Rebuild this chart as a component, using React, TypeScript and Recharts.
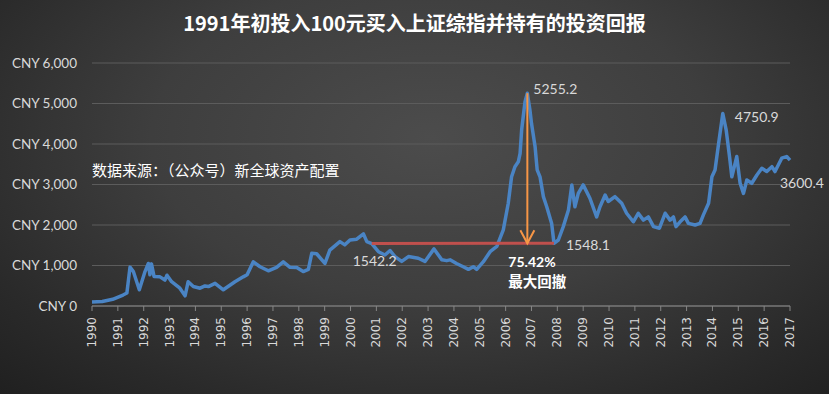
import React from 'react'
import {
  LineChart,
  Line,
  XAxis,
  YAxis,
  CartesianGrid,
  ReferenceLine,
  ReferenceDot,
} from 'recharts'

// decimal year positions of the monthly-ish samples
const dates = [
  1990.0, 1990.4, 1990.8, 1991.2, 1991.35, 1991.47, 1991.6, 1991.83, 1992.05, 1992.18,
  1992.24, 1992.3, 1992.4, 1992.63, 1992.82, 1992.9, 1993.08, 1993.4, 1993.6, 1993.72,
  1993.92, 1994.18, 1994.37, 1994.5, 1994.76, 1995.08, 1995.53, 1995.85, 1996.0, 1996.24,
  1996.5, 1996.82, 1997.14, 1997.4, 1997.66, 1997.92, 1998.17, 1998.37, 1998.5, 1998.69,
  1999.01, 1999.2, 1999.59, 1999.78, 1999.98, 2000.24, 2000.5, 2000.63, 2000.82, 2001.08,
  2001.33, 2001.53, 2001.72, 2001.98, 2002.24, 2002.62, 2002.88, 2003.23, 2003.53, 2003.72,
  2003.85, 2004.1, 2004.36, 2004.56, 2004.75, 2004.88, 2005.14, 2005.4, 2005.66, 2005.91,
  2006.1, 2006.23, 2006.36, 2006.49, 2006.56, 2006.62, 2006.75, 2006.84, 2006.94, 2007.0,
  2007.14, 2007.22, 2007.33, 2007.46, 2007.59, 2007.78, 2007.87, 2008.04, 2008.23, 2008.43,
  2008.56, 2008.68, 2008.81, 2009.0, 2009.26, 2009.52, 2009.65, 2009.85, 2009.97, 2010.23,
  2010.49, 2010.68, 2010.94, 2011.13, 2011.33, 2011.52, 2011.72, 2011.95, 2012.17, 2012.36,
  2012.49, 2012.59, 2012.75, 2012.94, 2013.07, 2013.33, 2013.52, 2013.65, 2013.85, 2013.98,
  2014.1, 2014.24, 2014.4, 2014.53, 2014.66, 2014.75, 2014.94, 2015.07, 2015.2, 2015.33,
  2015.52, 2015.72, 2015.91, 2016.1, 2016.3, 2016.42, 2016.68, 2016.87, 2017.0,
]

const values = [
  100, 110, 165, 270, 320, 960, 850, 400, 850, 1050,
  770, 1040, 730, 720, 640, 760, 600, 440, 250, 600,
  480, 440, 495, 480, 560, 400, 600, 720, 770, 1090,
  970, 870, 955, 1090, 955, 950, 850, 905, 1300, 1290,
  1050, 1380, 1590, 1510, 1630, 1650, 1780, 1590, 1542.2, 1340,
  1260, 1370, 1220, 1100, 1220, 1180, 1100, 1410, 1140, 1120,
  1140, 1050, 970, 905, 970, 905, 1095, 1340, 1470, 1880,
  2530, 3190, 3440, 3560, 3770, 4350, 5045, 5255.2, 4840, 4510,
  3930, 3360, 3190, 2700, 2450, 2040, 1548.1, 1630, 1960, 2370,
  2990, 2450, 2780, 2990, 2660, 2200, 2450, 2740, 2580, 2700,
  2535, 2290, 2080, 2290, 2120, 2200, 1960, 1920, 2290, 2120,
  2200, 1960, 2080, 2200, 2040, 2000, 2040, 2250, 2535, 3190,
  3360, 4020, 4750.9, 4350, 3690, 3190, 3690, 3030, 2780, 3110,
  3030, 3235, 3400, 3320, 3440, 3320, 3650, 3690, 3600.4,
]

const years = [
  1990, 1991, 1992, 1993, 1994, 1995, 1996, 1997, 1998, 1999, 2000, 2001, 2002, 2003,
  2004, 2005, 2006, 2007, 2008, 2009, 2010, 2011, 2012, 2013, 2014, 2015, 2016, 2017,
]

const yTicks = [0, 1000, 2000, 3000, 4000, 5000, 6000]

// drawdown markers: [date, value]
const peakPoint = [2006.84, 5255.2]
const troughPoint = [2007.87, 1548.1]
const levelStart = [2000.82, 1542.2]
const peak2014 = [2014.4, 4750.9]
const lastPoint = [2017.0, 3600.4]

const chartData = dates.map((t, i) => ({ t, v: values[i] }))

const numFont = 'Lato, "Noto Sans", sans-serif'
const cjkFont = '"Noto Sans CJK SC", "Noto Sans", sans-serif'

const YearTick = (props: any) => {
  const { x, y, payload } = props
  return (
    <text
      x={x}
      y={y}
      transform={`rotate(-90 ${x} ${y})`}
      textAnchor="end"
      dominantBaseline="central"
      fill="#d9d9d9"
      fontSize={12}
      fontFamily='"DejaVu Sans", sans-serif'
    >
      {payload.value}
    </text>
  )
}

const makeLabel =
  (text: string, dx: number, dy: number, anchor = 'start', bold = false, size = 14, color = '#d9d9d9') =>
  (p: any) => (
    <text
      x={p.cx + dx}
      y={p.cy + dy}
      textAnchor={anchor}
      dominantBaseline="central"
      fill={color}
      fontSize={size}
      fontWeight={bold ? 700 : 400}
      fontFamily={bold && /[^\x00-\x7f]/.test(text) ? cjkFont : numFont}
    >
      {text}
    </text>
  )

const ArrowHead = (p: any) => (
  <polyline
    points={`${p.cx - 7},${p.cy - 13} ${p.cx},${p.cy} ${p.cx + 7},${p.cy - 13}`}
    fill="none"
    stroke="#f79646"
    strokeWidth={2}
  />
)

const App: React.FC = () => {
  return (
    <div
      style={{
        position: 'absolute',
        left: 0,
        top: 0,
        width: 829,
        height: 394,
        overflow: 'hidden',
        background:
          'radial-gradient(ellipse 75% 90% at 52% 35%, #4c4c4c 0%, #3e3e3e 45%, #2a2a2a 80%, #202020 100%)',
      }}
    >
      <div
        style={{
          position: 'absolute',
          top: 10,
          left: 0,
          width: 829,
          textAlign: 'center',
          color: '#ffffff',
          fontFamily: cjkFont,
          fontWeight: 700,
          fontSize: 20,
          lineHeight: '26px',
        }}
      >
        1991年初投入100元买入上证综指并持有的投资回报
      </div>
      <div
        style={{
          position: 'absolute',
          top: 160,
          left: 92,
          color: '#ffffff',
          fontFamily: cjkFont,
          fontSize: 15,
          lineHeight: '20px',
          whiteSpace: 'nowrap',
          zIndex: 2,
        }}
      >
        数据来源：（公众号）新全球资产配置
      </div>
      <LineChart
        width={829}
        height={394}
        data={chartData}
        margin={{ top: 63, right: 39, bottom: 0, left: 0 }}
        style={{ position: 'absolute', left: 0, top: 0 }}
      >
        <CartesianGrid vertical={false} stroke="#5c5c5c" strokeWidth={1} />
        <XAxis
          dataKey="t"
          type="number"
          domain={[1990, 2017]}
          ticks={years}
          interval={0}
          height={88}
          tickSize={5}
          tickMargin={6}
          axisLine={{ stroke: '#868686' }}
          tickLine={{ stroke: '#868686' }}
          tick={<YearTick />}
        />
        <YAxis
          type="number"
          domain={[0, 6000]}
          ticks={yTicks}
          width={92}
          axisLine={false}
          tickLine={false}
          tickSize={0}
          tickMargin={15}
          tick={{ fill: '#d9d9d9', fontSize: 13.5, fontFamily: numFont }}
          tickFormatter={(v: number) => `CNY ${v.toLocaleString('en-US')}`}
        />
        <Line
          type="linear"
          dataKey="v"
          stroke="#4a84c4"
          strokeWidth={3.5}
          strokeLinejoin="round"
          dot={false}
          isAnimationActive={false}
        />
        <ReferenceLine
          segment={[
            { x: levelStart[0], y: levelStart[1] },
            { x: troughPoint[0], y: troughPoint[1] },
          ]}
          stroke="#c0504d"
          strokeWidth={3}
          ifOverflow="visible"
        />
        <ReferenceLine
          segment={[
            { x: peakPoint[0], y: peakPoint[1] },
            { x: peakPoint[0], y: troughPoint[1] },
          ]}
          stroke="#f79646"
          strokeWidth={2}
          ifOverflow="visible"
        />
        <ReferenceDot x={peakPoint[0]} y={troughPoint[1]} r={1} ifOverflow="visible" shape={ArrowHead} />
        <ReferenceDot x={peakPoint[0]} y={peakPoint[1]} r={1} ifOverflow="visible" shape={makeLabel('5255.2', 6, -5)} />
        <ReferenceDot x={troughPoint[0]} y={troughPoint[1]} r={1} ifOverflow="visible" shape={makeLabel('1548.1', 12, 1)} />
        <ReferenceDot x={levelStart[0]} y={levelStart[1]} r={1} ifOverflow="visible" shape={makeLabel('1542.2', 3, 17, 'middle')} />
        <ReferenceDot x={peakPoint[0]} y={troughPoint[1]} r={1} ifOverflow="visible" shape={makeLabel('75.42%', -19, 18, 'start', true, 14, '#ffffff')} />
        <ReferenceDot x={peakPoint[0]} y={troughPoint[1]} r={1} ifOverflow="visible" shape={makeLabel('最大回撤', -19, 37, 'start', true, 14.5, '#ffffff')} />
        <ReferenceDot x={peak2014[0]} y={peak2014[1]} r={1} ifOverflow="visible" shape={makeLabel('4750.9', 12, 3)} />
        <ReferenceDot x={lastPoint[0]} y={lastPoint[1]} r={1} ifOverflow="visible" shape={makeLabel('3600.4', -10, 22)} />
      </LineChart>
    </div>
  )
}

export default App
